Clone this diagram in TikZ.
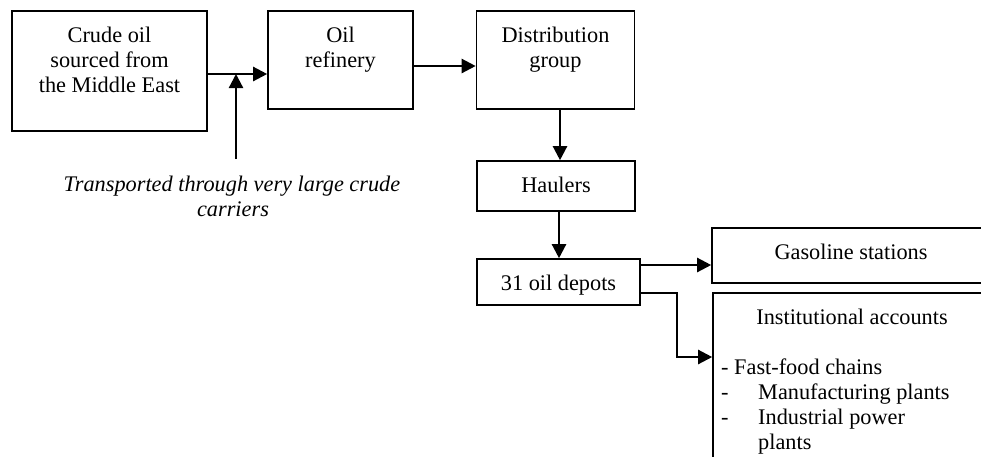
\documentclass[tikz,border=0pt]{standalone}
\usepackage{fontspec}
\setmainfont{Liberation Serif}
\usetikzlibrary{arrows.meta}
\begin{document}
\begin{tikzpicture}[x=1pt,y=-1pt,
  box/.style={draw=black,line width=1.6pt,fill=white,inner sep=0pt},
  txt/.style={anchor=base,inner sep=0pt,font=\fontsize{22.3}{25}\selectfont},
  arr/.style={line width=2.3pt,-{Triangle[length=14pt,width=14pt]}}]
\useasboundingbox (0,0) rectangle (981,456);
\clip (0,0) rectangle (981,456);
% boxes
\node[box,minimum width=195pt,minimum height=120pt] (crude) at (109.5,71) {};
\node[box,minimum width=145pt,minimum height=98pt] (ref) at (340.5,60) {};
\node[box,minimum width=158pt,minimum height=98pt] (dist) at (555.5,60) {};
\node[box,minimum width=158pt,minimum height=50pt] (haul) at (556,186) {};
\node[box,minimum width=163pt,minimum height=46pt] (depot) at (558.5,282) {};
\node[box,minimum width=300pt,minimum height=55pt] (gas) at (862,255.5) {};
\node[box,minimum width=300pt,minimum height=200pt] (inst) at (863,393) {};
% texts
\node[txt] (t1a) at (109.5,42) {Crude oil};
\node[txt] (t1b) at (109.5,67) {sourced from};
\node[txt] (t1c) at (109.5,92) {the Middle East};
\node[txt] (t2a) at (340.5,42) {Oil};
\node[txt] (t2b) at (340.5,67) {refinery};
\node[txt] (t3a) at (555.5,42) {Distribution};
\node[txt] (t3b) at (555.5,67) {group};
\node[txt] (t4) at (556,192) {Haulers};
\node[txt] (t5) at (558.5,290) {31 oil depots};
\node[txt] (t6) at (851,259) {Gasoline stations};
\node[txt] (t7) at (852,324) {Institutional accounts};
\node[txt,anchor=base west] (l1) at (721,374) {- Fast-food chains};
\node[txt,anchor=base west] (l2d) at (721,399) {-};
\node[txt,anchor=base west] (l2) at (758,399) {Manufacturing plants};
\node[txt,anchor=base west] (l3d) at (721,424) {-};
\node[txt,anchor=base west] (l3) at (758,424) {Industrial power};
\node[txt,anchor=base west] (l4) at (758,449) {plants};
\node[txt,font=\fontsize{22.3}{25}\selectfont\itshape] (c1) at (232,191) {Transported through very large crude};
\node[txt,font=\fontsize{22.3}{25}\selectfont\itshape] (c2) at (233,216) {carriers};
% connectors
\coordinate (cs) at (236,159);
\draw[arr] (crude.east |- 0,74) -- (ref.west |- 0,74);
\draw[arr] (cs) -- (236,74);
\draw[arr] (ref.east |- 0,66) -- (dist.west |- 0,66);
\draw[arr] (dist.south -| 560,0) -- (haul.north -| 560,0);
\draw[arr] (haul.south -| 559,0) -- (depot.north -| 559,0);
\draw[arr] (depot.east |- 0,265) -- (gas.west |- 0,265);
\draw[arr] (depot.east |- 0,293) -- (677,293) -- (677,357) -- (inst.west |- 0,357);
\end{tikzpicture}
\end{document}
